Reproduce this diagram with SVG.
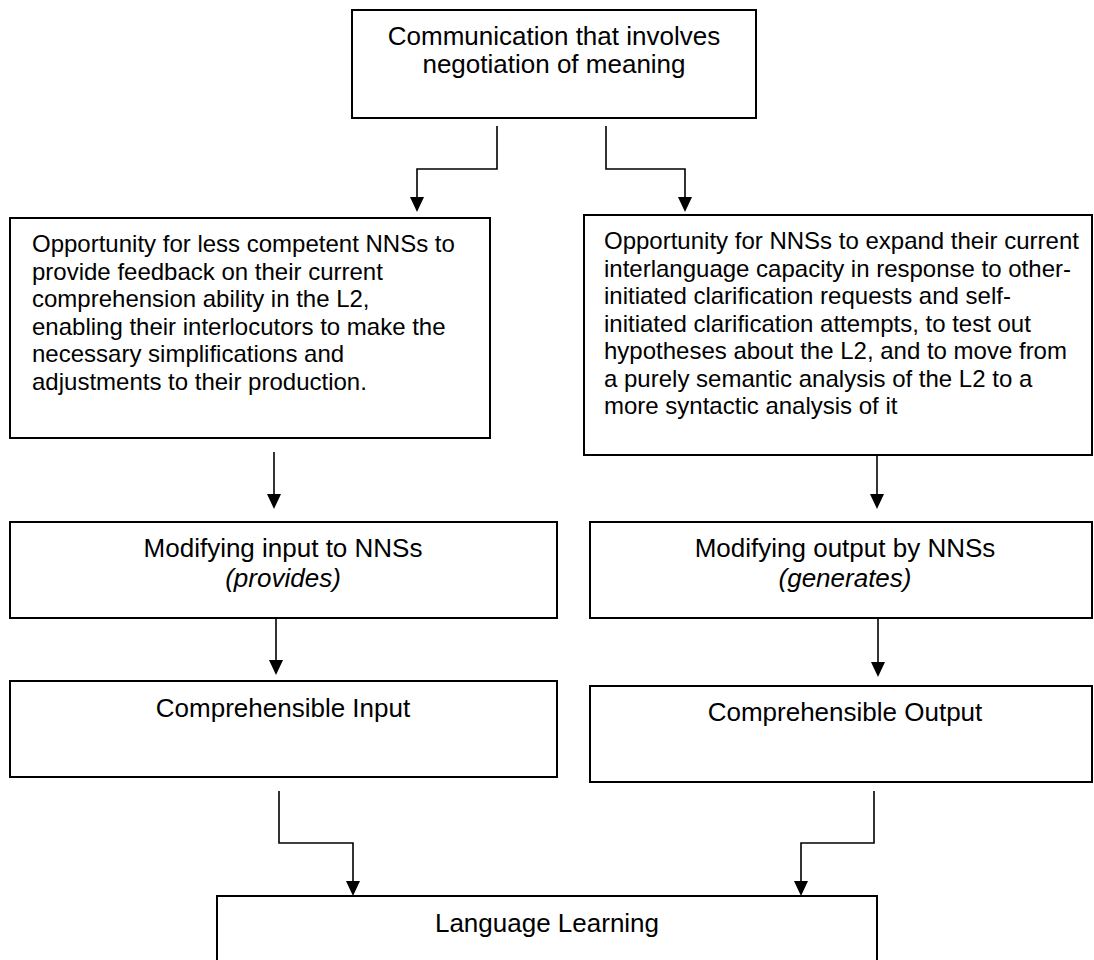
<svg xmlns="http://www.w3.org/2000/svg" width="1094" height="960" viewBox="0 0 1094 960">
  <style>
    .box { fill: #ffffff; stroke: #000000; stroke-width: 2; }
    .lbl { font-family: "Liberation Sans", Arial, sans-serif; font-size: 26px; fill: #000000; }
    .mid { text-anchor: middle; }
    .body { font-family: "Liberation Sans", Arial, sans-serif; font-size: 24px; fill: #000000; }
    .it { font-style: italic; }
    .wire { fill: none; stroke: #000000; stroke-width: 1.6; }
    .head { fill: #000000; }
  </style>
  <rect x="0" y="0" width="1094" height="960" fill="#ffffff"/>

  <g id="connectors">
    <path class="wire" d="M497,126 V169 H417 V197"/>
    <path class="wire" d="M606,126 V169 H685 V197"/>
    <path class="wire" d="M274,452 V494"/>
    <path class="wire" d="M877,453 V494"/>
    <path class="wire" d="M276,618 V660"/>
    <path class="wire" d="M878,619 V662"/>
    <path class="wire" d="M279,791 V843 H353 V881"/>
    <path class="wire" d="M874,791 V843 H801 V881"/>
    <path class="head" d="M410,197 L424,197 L417,212 Z"/>
    <path class="head" d="M678,197 L692,197 L685,212 Z"/>
    <path class="head" d="M267,494 L281,494 L274,509 Z"/>
    <path class="head" d="M870,494 L884,494 L877,509 Z"/>
    <path class="head" d="M269,660 L283,660 L276,675 Z"/>
    <path class="head" d="M871,662 L885,662 L878,677 Z"/>
    <path class="head" d="M346,881 L360,881 L353,896 Z"/>
    <path class="head" d="M794,881 L808,881 L801,896 Z"/>
  </g>

  <g id="node-communication">
    <rect class="box" x="352" y="10" width="404" height="108"/>
    <text class="lbl mid" x="554" y="45">Communication that involves</text>
    <text class="lbl mid" x="554" y="73">negotiation of meaning</text>
  </g>

  <g id="node-feedback">
    <rect class="box" x="10" y="218" width="480" height="220"/>
    <text class="body" x="32" y="252">Opportunity for less competent NNSs to</text>
    <text class="body" x="32" y="279.5">provide feedback on their current</text>
    <text class="body" x="32" y="307">comprehension ability in the L2,</text>
    <text class="body" x="32" y="334.5">enabling their interlocutors to make the</text>
    <text class="body" x="32" y="362">necessary simplifications and</text>
    <text class="body" x="32" y="389.5">adjustments to their production.</text>
  </g>

  <g id="node-expand">
    <rect class="box" x="584" y="215" width="508" height="240"/>
    <text class="body" x="604" y="249">Opportunity for NNSs to expand their current</text>
    <text class="body" x="604" y="276.5">interlanguage capacity in response to other-</text>
    <text class="body" x="604" y="304">initiated clarification requests and self-</text>
    <text class="body" x="604" y="331.5">initiated clarification attempts, to test out</text>
    <text class="body" x="604" y="359">hypotheses about the L2, and to move from</text>
    <text class="body" x="604" y="386.5">a purely semantic analysis of the L2 to a</text>
    <text class="body" x="604" y="414">more syntactic analysis of it</text>
  </g>

  <g id="node-modify-input">
    <rect class="box" x="10" y="522" width="547" height="96"/>
    <text class="lbl mid" x="283" y="557">Modifying input to NNSs</text>
    <text class="lbl mid it" x="283" y="587">(provides)</text>
  </g>

  <g id="node-modify-output">
    <rect class="box" x="590" y="522" width="502" height="96"/>
    <text class="lbl mid" x="845" y="557">Modifying output by NNSs</text>
    <text class="lbl mid it" x="845" y="587">(generates)</text>
  </g>

  <g id="node-comp-input">
    <rect class="box" x="10" y="681" width="547" height="96"/>
    <text class="lbl mid" x="283" y="717">Comprehensible Input</text>
  </g>

  <g id="node-comp-output">
    <rect class="box" x="590" y="686" width="502" height="96"/>
    <text class="lbl mid" x="845" y="721">Comprehensible Output</text>
  </g>

  <g id="node-language-learning">
    <rect class="box" x="217" y="896" width="660" height="80"/>
    <text class="lbl mid" x="547" y="932">Language Learning</text>
  </g>
</svg>
